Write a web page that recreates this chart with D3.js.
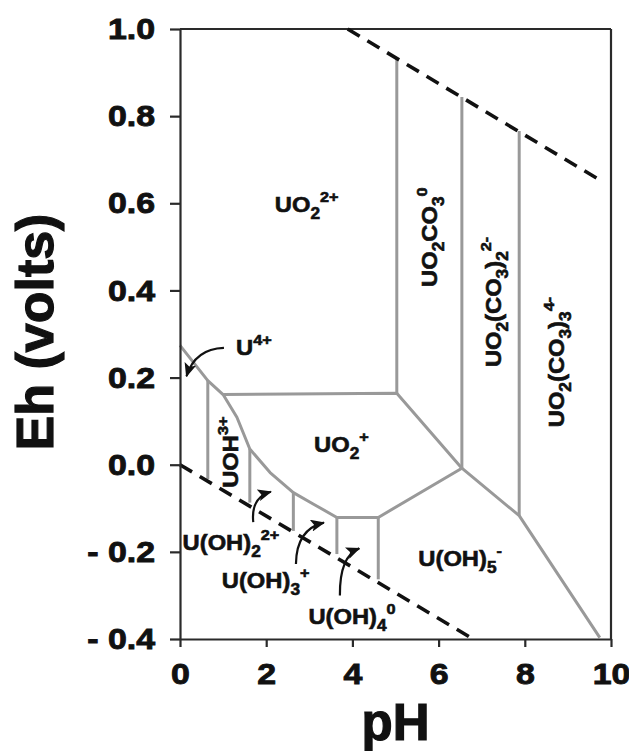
<!DOCTYPE html>
<html><head><meta charset="utf-8">
<script src="https://cdn.jsdelivr.net/npm/d3@7"></script>
<style>
body{margin:0;background:#fff;}
svg{display:block;}
text{font-family:"Liberation Sans",Arial,Helvetica,sans-serif;font-weight:bold;fill:#111;}
</style>
</head><body>
<svg id="chart" width="629" height="751"></svg>
<script>
// ---- data ----
const phTicks = [0, 2, 4, 6, 8, 10];
const ehTicks = [-0.4, -0.2, 0.0, 0.2, 0.4, 0.6, 0.8, 1.0];
const ehTickLabels = ["- 0.4", "- 0.2", "0.0", "0.2", "0.4", "0.6", "0.8", "1.0"];
const xTitle = "pH";
const yTitle = "Eh (volts)";

// water stability limits [pH, Eh]
const waterUpper = [[3.89, 1.0], [9.78, 0.651]];
const waterLower = [[0.0, 0.0], [6.80, -0.400]];

// main U(IV) / U(V) / U(VI) boundary [pH, Eh]
const lowerBoundary = [[0.0, 0.274], [0.645, 0.193], [1.00, 0.161], [1.32, 0.109], [1.62, 0.036],
  [2.09, -0.018], [2.63, -0.064], [3.09, -0.090], [3.64, -0.121], [4.60, -0.121],
  [6.54, -0.008], [7.87, -0.117], [9.74, -0.397]];
const upperBoundary = [[1.00, 0.161], [5.03, 0.164], [6.54, -0.008]];

// vertical boundaries: pH, top Eh, bottom Eh
const splitPH = [0.645, 1.62, 2.63, 3.64, 4.60, 5.03, 6.54, 7.87];
const splitTop = [0.193, 0.036, -0.064, -0.121, -0.121, 0.934, 0.844, 0.766];
const splitBottom = [-0.033, -0.087, -0.152, -0.205, -0.263, 0.164, -0.008, -0.117];

// species labels: parts [text, 0 normal | -1 sub | 1 sup]
const speciesNames = [
  [["UO",0],["2",-1],["2+",1]],
  [["UO",0],["2",-1],["+",1]],
  [["U",0],["4+",1]],
  [["UOH",0],["3+",1]],
  [["U(OH)",0],["2",-1],["2+",1]],
  [["U(OH)",0],["3",-1],["+",1]],
  [["U(OH)",0],["4",-1],["0",1]],
  [["U(OH)",0],["5",-1],["-",1]],
  [["UO",0],["2",-1],["CO",0],["3",-1],["0",1]],
  [["UO",0],["2",-1],["(CO",0],["3",-1],[")",0],["2",-1],["2-",1]],
  [["UO",0],["2",-1],["(CO",0],["3",-1],[")",0],["3",-1],["4-",1]]
];
const speciesPH = [2.20, 3.11, 1.30, 1.35, 0.06, 0.97, 2.98, 5.53, 5.97, 7.44, 8.91];
const speciesEh = [0.580, 0.030, 0.251, -0.053, -0.195, -0.282, -0.366, -0.232, 0.408, 0.224, 0.086];
const speciesVertical = [false, false, false, true, false, false, false, false, true, true, true];

// annotation arrows: start, control, tip [pH, Eh]
const arrowStart = [[1.02, 0.268], [1.70, -0.132], [2.69, -0.228], [3.71, -0.300]];
const arrowCtrl  = [[0.35, 0.266], [1.64, -0.075], [2.70, -0.148], [3.70, -0.210]];
const arrowTip   = [[0.15, 0.203], [2.11, -0.062], [3.34, -0.133], [4.16, -0.192]];

// ---- drawing ----
const svg = d3.select("#chart");
const x = d3.scaleLinear().domain([0, 10]).range([180, 611]);
const y = d3.scaleLinear().domain([-0.4, 1.0]).range([639, 29]);
const GRAY = "#999999";
const AX = "#2a2a2a";

svg.append("defs").append("marker")
  .attr("id", "ah").attr("markerUnits", "userSpaceOnUse")
  .attr("viewBox", "0 0 14 12").attr("markerWidth", 14).attr("markerHeight", 12)
  .attr("refX", 13).attr("refY", 6).attr("orient", "auto")
  .append("path").attr("d", "M0,0 L14,6 L0,12 L3,6 Z").attr("fill", "#111");

// frame (top & right)
svg.append("line").attr("x1", x(0)).attr("x2", x(10)).attr("y1", y(1.0)).attr("y2", y(1.0))
  .attr("stroke", AX).attr("stroke-width", 2.2);
svg.append("line").attr("x1", x(10)).attr("x2", x(10)).attr("y1", y(1.0)).attr("y2", y(-0.4))
  .attr("stroke", AX).attr("stroke-width", 2.2);

const line = d3.line().x(d => x(d[0])).y(d => y(d[1]));

// boundaries
[lowerBoundary, upperBoundary].forEach(b => {
  svg.append("path").attr("d", line(b)).attr("fill", "none")
    .attr("stroke", GRAY).attr("stroke-width", 3).attr("stroke-linejoin", "round");
});
svg.selectAll("line.split").data(splitPH).enter().append("line").attr("class", "split")
  .attr("x1", d => x(d)).attr("x2", d => x(d))
  .attr("y1", (d, i) => y(splitTop[i])).attr("y2", (d, i) => y(splitBottom[i]))
  .attr("stroke", GRAY).attr("stroke-width", 3);

// water limits
[waterUpper, waterLower].forEach(w => {
  svg.append("path").attr("d", line(w)).attr("fill", "none")
    .attr("stroke", "#111").attr("stroke-width", 3.6).attr("stroke-dasharray", "14,9");
});

// axes
const yAxis = d3.axisLeft(y).tickValues(ehTicks).tickFormat((d, i) => ehTickLabels[i])
  .tickSize(10).tickSizeOuter(0).tickPadding(15);
const gy = svg.append("g").attr("transform", `translate(${x(0)},0)`).call(yAxis);
const xAxis = d3.axisBottom(x).tickValues(phTicks).tickFormat(d3.format("d"))
  .tickSize(8).tickSizeOuter(0).tickPadding(16);
const gx = svg.append("g").attr("transform", `translate(0,${y(-0.4)})`).call(xAxis);
[gx, gy].forEach(g => {
  g.select(".domain").attr("stroke", AX).attr("stroke-width", 2.2);
  g.selectAll(".tick line").attr("stroke", AX).attr("stroke-width", 2.2);
  g.selectAll(".tick text").attr("font-size", 30).attr("fill", "#111")
    .attr("stroke", "#111").attr("stroke-width", 0.9)
    .style("font-family", '"Liberation Sans",Arial,sans-serif').style("font-weight", "bold");
});
const SX = 1.13;
gy.selectAll(".tick text").attr("x", -25 / SX).attr("transform", `scale(${SX},1)`);
gx.selectAll(".tick text").attr("transform", `scale(${SX},1)`);

// axis titles
svg.append("text").attr("transform", `translate(${x(5)},740)`).attr("text-anchor", "middle")
  .attr("font-size", 51).attr("stroke", "#111").attr("stroke-width", 1.2).text(xTitle);
svg.append("text").attr("transform", `translate(53,${(y(1.0) + y(-0.4)) / 2 - 2}) rotate(-90)`)
  .attr("text-anchor", "middle").attr("font-size", 52)
  .attr("stroke", "#111").attr("stroke-width", 1.2).text(yTitle);

// species labels
const MAIN = 22, SUBSIZE = 16, SUPSIZE = 15, SUB = 7, SUP = -10, LSX = 1.08;
speciesNames.forEach((parts, i) => {
  const px = x(speciesPH[i]), py = y(speciesEh[i]);
  const tr = speciesVertical[i]
    ? `translate(${px},${py}) rotate(-90) scale(${LSX},1)`
    : `translate(${px},${py}) scale(${LSX},1)`;
  const t = svg.append("text").attr("transform", tr).attr("x", 0).attr("y", 0)
    .attr("stroke", "#111").attr("stroke-width", 0.6);
  let cur = 0;
  parts.forEach(([s, k]) => {
    const target = k === -1 ? SUB : (k === 1 ? SUP : 0);
    t.append("tspan").attr("dy", target - cur)
      .attr("font-size", k === 0 ? MAIN : (k === -1 ? SUBSIZE : SUPSIZE)).text(s);
    cur = target;
  });
});

// arrows
arrowStart.forEach((s, i) => {
  const c = arrowCtrl[i], e = arrowTip[i];
  const p = d3.path();
  p.moveTo(x(s[0]), y(s[1]));
  p.quadraticCurveTo(x(c[0]), y(c[1]), x(e[0]), y(e[1]));
  svg.append("path").attr("d", p.toString()).attr("fill", "none")
    .attr("stroke", "#111").attr("stroke-width", 2.2).attr("marker-end", "url(#ah)");
});
</script>
</body></html>
